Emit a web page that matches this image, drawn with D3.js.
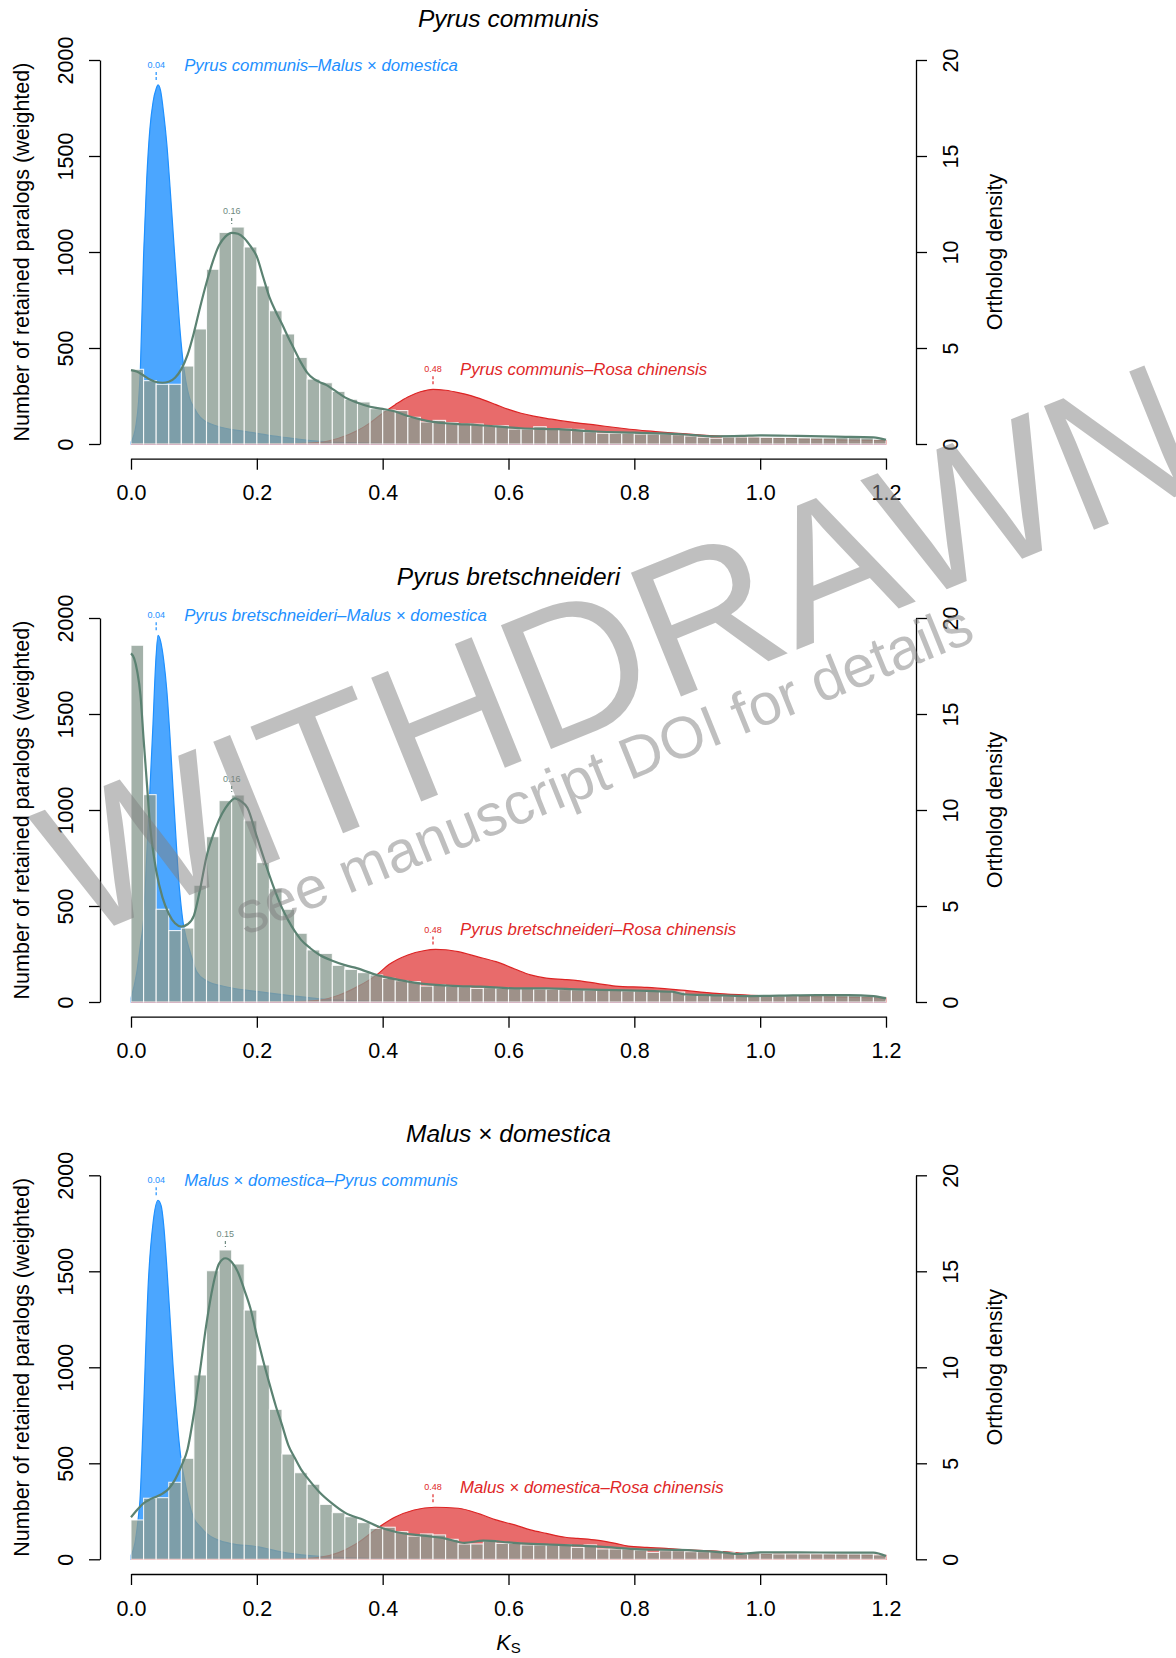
<!DOCTYPE html>
<html><head><meta charset="utf-8">
<script src="https://cdn.jsdelivr.net/npm/d3@7"></script>
<style>
body{margin:0;background:#fff;}
svg{display:block;font-family:"Liberation Sans",Arial,Helvetica,sans-serif;}
</style></head><body>
<svg id="chart" width="1176" height="1658"></svg>
<script>
// ---------- data ----------
const xTicks = [0, 0.2, 0.4, 0.6, 0.8, 1.0, 1.2];
const leftTicks = [0, 500, 1000, 1500, 2000];
const rightTicks = [0, 5, 10, 15, 20];
const binWidth = 0.02;

const titles = ["Pyrus communis", "Pyrus bretschneideri", "Malus × domestica"];
const blueLabels = ["Pyrus communis–Malus × domestica", "Pyrus bretschneideri–Malus × domestica", "Malus × domestica–Pyrus communis"];
const redLabels = ["Pyrus communis–Rosa chinensis", "Pyrus bretschneideri–Rosa chinensis", "Malus × domestica–Rosa chinensis"];
const blueModes = [0.04, 0.04, 0.04];
const greenModes = [0.16, 0.16, 0.15];
const redModes = [0.48, 0.48, 0.48];

// histogram counts (weighted paralogs), bins of 0.02 from 0 to 1.2
const pcHist = [389,330,311,311,406,599,910,1102,1130,1026,823,694,573,451,338,319,274,233,219,184,177,174,139,115,123,111,104,104,95,95,78,78,90,78,78,76,64,56,56,56,52,52,52,49,42,35,30,36,36,36,34,34,34,32,32,32,34,34,32,25];
const pbHist = [1858,1080,483,372,385,608,861,1049,1078,944,726,590,483,358,271,253,191,170,153,141,123,111,106,83,89,83,80,71,75,72,70,70,68,66,65,64,62,62,60,58,58,56,55,52,36,35,34,33,32,32,31,32,33,34,35,36,36,35,33,30];
const mdHist = [205,318,321,401,526,960,1503,1611,1538,1298,1012,781,548,451,391,286,243,222,191,161,167,144,121,132,127,104,80,80,95,83,83,75,75,75,75,62,75,54,54,54,49,36,45,45,40,40,40,35,26,35,31,28,28,28,28,28,28,28,28,23];

// paralog density line [Ks, count scale]
const pcLine = [[0,385],[0.01,376],[0.02,357],[0.03,336],[0.04,323],[0.05,319],[0.06,324],[0.07,345],[0.08,390],[0.09,465],[0.10,580],[0.11,715],[0.12,840],[0.13,950],[0.14,1035],[0.15,1080],[0.16,1100],[0.17,1095],[0.18,1072],[0.19,1030],[0.20,976],[0.21,870],[0.22,765],[0.23,690],[0.24,625],[0.25,555],[0.26,490],[0.27,425],[0.28,372],[0.29,340],[0.30,322],[0.31,308],[0.32,287],[0.34,243],[0.36,215],[0.38,194],[0.40,183],[0.42,169],[0.44,146],[0.46,128],[0.48,115],[0.50,108],[0.52,104],[0.55,99],[0.58,92],[0.62,82],[0.68,77],[0.74,65],[0.80,59],[0.87,52],[0.93,40],[0.97,42],[1.00,45],[1.06,42],[1.12,38],[1.18,35],[1.20,22]];
const pbLine = [[0,1816],[0.005,1790],[0.01,1720],[0.015,1600],[0.02,1370],[0.025,1150],[0.03,931],[0.035,790],[0.04,685],[0.05,545],[0.06,460],[0.07,410],[0.08,393],[0.09,405],[0.10,450],[0.11,590],[0.12,757],[0.13,865],[0.14,950],[0.15,1010],[0.16,1050],[0.165,1061],[0.175,1045],[0.185,1012],[0.20,861],[0.21,760],[0.22,660],[0.23,570],[0.24,490],[0.25,425],[0.26,370],[0.27,325],[0.285,280],[0.30,245],[0.32,215],[0.34,192],[0.36,175],[0.39,141],[0.43,113],[0.465,94],[0.52,83],[0.555,80],[0.61,71],[0.66,71],[0.71,66],[0.77,62],[0.82,58],[0.86,54],[0.88,40],[0.92,36],[0.98,31],[1.03,33],[1.09,36],[1.14,36],[1.18,31],[1.20,19]];
const mdLine = [[0,219],[0.01,258],[0.02,292],[0.03,312],[0.04,326],[0.05,342],[0.06,368],[0.07,415],[0.08,485],[0.09,575],[0.10,760],[0.11,990],[0.12,1229],[0.13,1420],[0.14,1540],[0.15,1568],[0.16,1548],[0.17,1495],[0.18,1405],[0.19,1305],[0.20,1165],[0.21,1035],[0.22,915],[0.23,800],[0.24,700],[0.25,595],[0.26,530],[0.27,470],[0.28,425],[0.29,385],[0.30,348],[0.32,290],[0.34,243],[0.37,205],[0.40,162],[0.43,137],[0.465,123],[0.50,108],[0.53,86],[0.56,97],[0.60,88],[0.62,83],[0.68,75],[0.745,66],[0.81,52],[0.87,49],[0.94,36],[0.97,28],[1.00,36],[1.06,36],[1.13,35],[1.18,35],[1.20,17]];

// ortholog densities [Ks, density]
const pcBlue = [[0,0.1],[0.008,1.0],[0.012,2.2],[0.015,4.0],[0.02,9.8],[0.025,13.8],[0.03,16.4],[0.035,17.8],[0.04,18.5],[0.043,18.7],[0.047,18.4],[0.052,17.2],[0.057,15.6],[0.062,13.4],[0.067,11.0],[0.072,8.6],[0.077,6.3],[0.082,4.5],[0.087,3.3],[0.093,2.4],[0.10,1.9],[0.11,1.4],[0.12,1.15],[0.135,0.95],[0.15,0.82],[0.175,0.68],[0.20,0.56],[0.225,0.42],[0.25,0.32],[0.275,0.22],[0.30,0.14],[0.35,0.07],[0.40,0.04],[0.50,0.02],[0.60,0.01],[1.20,0]];
const pbBlue = [[0,0.2],[0.009,1.5],[0.015,3.0],[0.02,4.3],[0.025,7.6],[0.03,11.0],[0.035,14.5],[0.039,17.5],[0.043,19.1],[0.047,18.8],[0.052,17.8],[0.057,16.2],[0.062,13.8],[0.067,11.0],[0.071,8.8],[0.075,6.7],[0.079,5.2],[0.083,4.1],[0.088,3.3],[0.094,2.6],[0.104,1.6],[0.12,1.1],[0.147,0.82],[0.175,0.65],[0.20,0.55],[0.25,0.35],[0.30,0.16],[0.35,0.07],[0.40,0.04],[0.50,0.02],[1.20,0]];
const mdBlue = [[0,0.2],[0.006,0.8],[0.0117,2.2],[0.0143,3.1],[0.0196,7.4],[0.0275,14.4],[0.035,17.5],[0.043,18.7],[0.048,18.4],[0.052,17.4],[0.057,15.2],[0.062,12.6],[0.067,10.0],[0.071,8.2],[0.075,6.6],[0.08,5.1],[0.086,4.0],[0.092,3.0],[0.099,2.2],[0.11,1.7],[0.12,1.35],[0.157,0.83],[0.20,0.66],[0.25,0.32],[0.30,0.15],[0.35,0.07],[0.40,0.03],[0.50,0.02],[1.20,0]];

const pcRed = [[0,0],[0.2,0],[0.25,0.01],[0.30,0.08],[0.33,0.3],[0.36,0.7],[0.38,1.1],[0.40,1.6],[0.42,2.05],[0.44,2.45],[0.46,2.72],[0.48,2.85],[0.50,2.8],[0.52,2.68],[0.54,2.52],[0.56,2.3],[0.58,2.05],[0.60,1.8],[0.62,1.6],[0.64,1.45],[0.66,1.33],[0.68,1.23],[0.70,1.14],[0.74,0.98],[0.78,0.82],[0.82,0.68],[0.87,0.56],[0.92,0.44],[0.98,0.34],[1.05,0.28],[1.12,0.22],[1.20,0.18]];
const pbRed = [[0,0],[0.2,0],[0.25,0.01],[0.30,0.1],[0.33,0.35],[0.36,0.8],[0.39,1.4],[0.41,1.95],[0.44,2.45],[0.465,2.67],[0.484,2.74],[0.50,2.72],[0.52,2.62],[0.55,2.36],[0.58,2.1],[0.61,1.72],[0.635,1.41],[0.66,1.24],[0.69,1.17],[0.71,1.11],[0.74,0.97],[0.77,0.83],[0.82,0.76],[0.87,0.63],[0.93,0.45],[0.98,0.36],[1.05,0.3],[1.12,0.25],[1.20,0.2]];
const mdRed = [[0,0],[0.2,0],[0.25,0.01],[0.30,0.1],[0.33,0.35],[0.36,0.85],[0.395,1.7],[0.42,2.2],[0.45,2.57],[0.483,2.71],[0.52,2.66],[0.555,2.35],[0.58,2.05],[0.61,1.79],[0.635,1.53],[0.66,1.35],[0.69,1.15],[0.71,1.09],[0.74,1.0],[0.77,0.83],[0.79,0.69],[0.82,0.62],[0.85,0.57],[0.87,0.52],[0.93,0.43],[0.98,0.3],[1.05,0.26],[1.12,0.23],[1.20,0.2]];

const watermarkMain = "WITHDRAWN";
const watermarkSub = "see manuscript DOI for details";

// ---------- drawing ----------
const FONT = '"Liberation Sans", Arial, Helvetica, sans-serif';
const svg = d3.select("#chart");
const x = d3.scaleLinear().domain([0, 1.2]).range([131, 886]);
const offsets = [0, 558, 1115.3];
const panels = [
  {hist: pcHist, line: pcLine, blue: pcBlue, red: pcRed},
  {hist: pbHist, line: pbLine, blue: pbBlue, red: pbRed},
  {hist: mdHist, line: mdLine, blue: mdBlue, red: mdRed}
];

function richItalic(sel, str) {
  str.split("×").forEach((part, k) => {
    if (k > 0) sel.append("tspan").attr("font-style", "normal").text("×");
    sel.append("tspan").attr("font-style", "italic").text(part);
  });
}

function styleAxis(g) {
  g.attr("font-size", null).attr("font-family", null);
  g.select(".domain").attr("stroke", "#000").attr("stroke-width", 1.3);
  g.selectAll(".tick line").attr("stroke", "#000").attr("stroke-width", 1.3);
  g.selectAll(".tick text").attr("fill", "#000").attr("font-size", 21.5).attr("font-family", FONT);
}

panels.forEach((p, i) => {
  const off = offsets[i];
  const yL = d3.scaleLinear().domain([0, 2000]).range([444 + off, 60 + off]);
  const yR = d3.scaleLinear().domain([0, 20]).range([444 + off, 60 + off]);
  const g = svg.append("g");

  const area = d3.area().x(d => x(d[0])).y0(yR(0)).y1(d => yR(d[1])).curve(d3.curveMonotoneX);
  g.append("path").datum(p.blue).attr("d", area)
    .attr("fill", "#1E90FF").attr("fill-opacity", 0.8)
    .attr("stroke", "#1E90FF").attr("stroke-width", 1.2);
  g.append("path").datum(p.red).attr("d", area)
    .attr("fill", "#DC1E1E").attr("fill-opacity", 0.66)
    .attr("stroke", "#DC2424").attr("stroke-width", 1.2);

  g.selectAll("rect.bar").data(p.hist).join("rect").attr("class", "bar")
    .attr("x", (d, k) => x(k * binWidth))
    .attr("width", (d, k) => x((k + 1) * binWidth) - x(k * binWidth))
    .attr("y", d => yL(d))
    .attr("height", d => yL(0) - yL(d))
    .attr("fill", "#8A9C92").attr("fill-opacity", 0.79)
    .attr("stroke", "#ffffff").attr("stroke-opacity", 0.85).attr("stroke-width", 1.1);

  const line = d3.line().x(d => x(d[0])).y(d => yL(d[1])).curve(d3.curveMonotoneX);
  g.append("path").datum(p.line).attr("d", line)
    .attr("fill", "none").attr("stroke", "#5B8272").attr("stroke-width", 2.2);

  // mode markers
  function mode(xv, topY, col, tickA, tickB, labY) {
    g.append("line").attr("x1", x(xv)).attr("x2", x(xv))
      .attr("y1", topY - tickA).attr("y2", topY - tickB)
      .attr("stroke", col).attr("stroke-width", 1.2).attr("stroke-dasharray", "3,2");
    g.append("text").attr("x", x(xv)).attr("y", topY - labY).attr("dy", "0.35em")
      .attr("text-anchor", "middle").attr("font-size", 9).attr("fill", col)
      .text(d3.format(".2f")(xv));
  }
  const blueTop = yR(d3.max(p.blue, d => d[1]));
  const redTop = yR(d3.max(p.red, d => d[1]));
  const gBin = Math.floor(greenModes[i] / binWidth + 1e-9);
  const greenTop = yL(Math.max(p.hist[gBin], d3.max(p.line.filter(d => d[0] > 0.1), d => d[1])));
  mode(blueModes[i], blueTop, "#1E90FF", 13, 3, 20);
  mode(greenModes[i], greenTop, "#6E8A80", 9, 3, 16);
  mode(redModes[i], redTop, "#E02828", 13, 3, 20);

  const bl = g.append("text").attr("x", x(blueModes[i]) + 28).attr("y", blueTop - 20).attr("dy", "0.35em")
    .attr("font-size", 16.8).attr("fill", "#1E90FF");
  richItalic(bl, blueLabels[i]);
  const rl = g.append("text").attr("x", x(redModes[i]) + 27).attr("y", redTop - 20).attr("dy", "0.35em")
    .attr("font-size", 16.8).attr("fill", "#E02828");
  richItalic(rl, redLabels[i]);

  // title
  const t = svg.append("text").attr("x", 508.5).attr("y", 26.5 + off).attr("text-anchor", "middle")
    .attr("font-size", 24.5).attr("fill", "#000");
  richItalic(t, titles[i]);

  // axes
  const gx = svg.append("g").attr("transform", `translate(0,${458.7 + off})`)
    .call(d3.axisBottom(x).tickValues(xTicks).tickFormat(d3.format(".1f")).tickSize(11).tickSizeOuter(0));
  styleAxis(gx);
  gx.selectAll(".tick text").attr("y", 34).attr("dy", "0.35em");

  const gl = svg.append("g").attr("transform", "translate(100,0)")
    .call(d3.axisLeft(yL).tickValues(leftTicks).tickFormat(d3.format("d")).tickSize(11).tickSizeOuter(0));
  styleAxis(gl);
  gl.selectAll(".tick text").attr("x", 0).attr("dy", "0.35em").attr("text-anchor", "middle")
    .attr("transform", "translate(-34.5,0) rotate(-90)");

  const gr = svg.append("g").attr("transform", "translate(916,0)")
    .call(d3.axisRight(yR).tickValues(rightTicks).tickFormat(d3.format("d")).tickSize(11).tickSizeOuter(0));
  styleAxis(gr);
  gr.selectAll(".tick text").attr("x", 0).attr("dy", "0.35em").attr("text-anchor", "middle")
    .attr("transform", "translate(34,0) rotate(-90)");

  svg.append("text").attr("transform", `translate(21,${252 + off}) rotate(-90)`)
    .attr("dy", "0.35em").attr("text-anchor", "middle").attr("font-size", 21.5).attr("fill", "#000")
    .text("Number of retained paralogs (weighted)");
  svg.append("text").attr("transform", `translate(994,${252 + off}) rotate(-90)`)
    .attr("dy", "0.35em").attr("text-anchor", "middle").attr("font-size", 21.5).attr("fill", "#000")
    .text("Ortholog density");
});

// x-axis title K_S
const ks = svg.append("text").attr("x", 508.5).attr("y", 1650).attr("text-anchor", "middle").attr("fill", "#000");
ks.append("tspan").attr("font-style", "italic").attr("font-size", 21.5).text("K");
ks.append("tspan").attr("font-size", 15).attr("dy", 3).text("S");

// watermark
svg.append("text").attr("transform", "translate(643,712) rotate(-22)")
  .attr("text-anchor", "middle").attr("font-size", 194)
  .attr("fill", "#7F7F7F").attr("fill-opacity", 0.5).text(watermarkMain);
svg.append("text").attr("transform", "translate(611,788) rotate(-22)")
  .attr("text-anchor", "middle").attr("font-size", 58.7)
  .attr("fill", "#7F7F7F").attr("fill-opacity", 0.5).text(watermarkSub);
</script></body></html>
